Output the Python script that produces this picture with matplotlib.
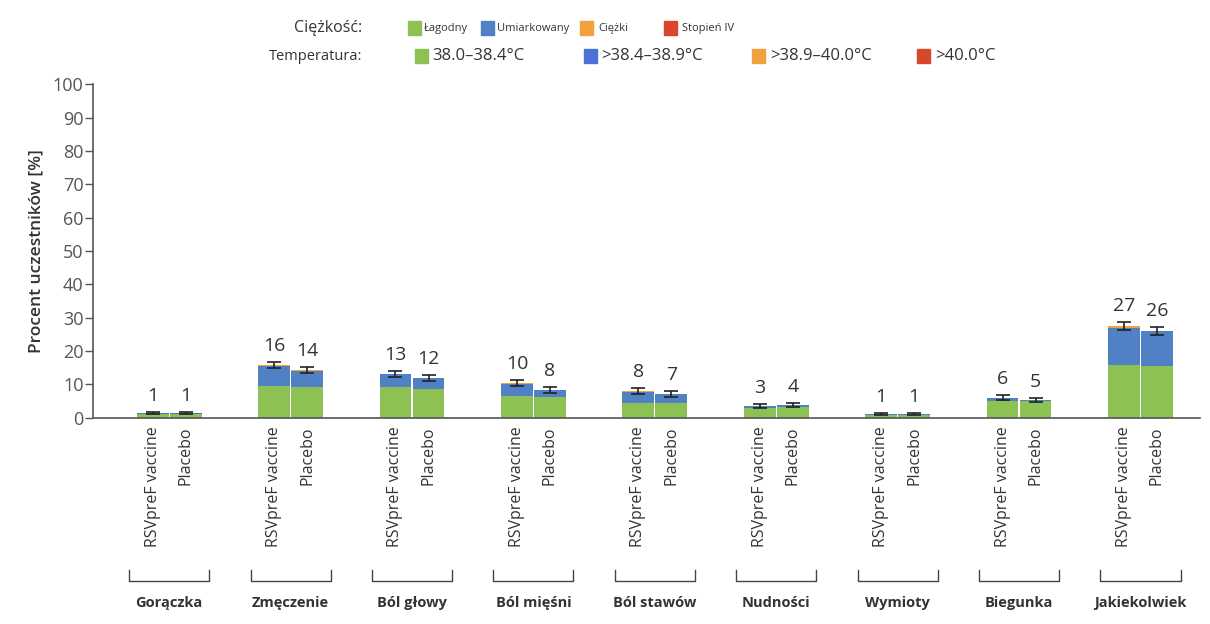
import numpy as np
import matplotlib.pyplot as plt
from matplotlib.patches import Rectangle
from matplotlib.transforms import blended_transform_factory

plt.rcParams['font.family'] = ['Open Sans', 'DejaVu Sans']

# Local reactions by severity, % of participants
categories = ['Gorączka', 'Zmęczenie', 'Ból głowy', 'Ból mięśni', 'Ból stawów',
              'Nudności', 'Wymioty', 'Biegunka', 'Jakiekolwiek']
groups = ['RSVpreF vaccine', 'Placebo']

vaccine_mild     = [1.0, 9.4, 9.2, 6.4, 4.5, 3.0, 0.8, 4.9, 15.9]
vaccine_moderate = [0.4, 6.1, 3.8, 3.8, 3.3, 0.4, 0.2, 1.0, 10.9]
vaccine_severe   = [0.0, 0.3, 0.1, 0.1, 0.1, 0.0, 0.0, 0.1, 0.6]
vaccine_grade4   = [0.0, 0.0, 0.0, 0.0, 0.0, 0.0, 0.0, 0.0, 0.0]
vaccine_err      = [0.4, 1.0, 1.0, 0.9, 0.9, 0.6, 0.3, 0.7, 1.2]

placebo_mild     = [1.1, 9.1, 8.7, 6.3, 4.4, 3.3, 0.8, 5.0, 15.6]
placebo_moderate = [0.3, 5.0, 3.1, 1.9, 2.6, 0.6, 0.2, 0.4, 10.3]
placebo_severe   = [0.0, 0.2, 0.1, 0.0, 0.0, 0.0, 0.0, 0.0, 0.1]
placebo_grade4   = [0.0, 0.0, 0.0, 0.0, 0.0, 0.0, 0.0, 0.0, 0.0]
placebo_err      = [0.4, 1.0, 1.0, 0.9, 0.9, 0.6, 0.3, 0.6, 1.3]

severity_labels = ['Łagodny', 'Umiarkowany', 'Ciężki', 'Stopień IV']
temperature_labels = ['38.0–38.4°C', '>38.4–38.9°C', '>38.9–40.0°C', '>40.0°C']
severity_colors = ['#8dc153', '#4f81c4', '#f2a23c', '#d9472b']
temperature_colors = ['#8dc153', '#4a72d4', '#f2a23c', '#d9472b']

TEXT = '#333333'

fig = plt.figure(figsize=(12.1, 6.24), dpi=100)
ax = fig.add_axes([0.0771, 0.3306, 0.9146, 0.5343])

x = np.arange(len(categories))
bar_w = 0.262
offset = 0.136

series = [
    (x - offset, [vaccine_mild, vaccine_moderate, vaccine_severe, vaccine_grade4], vaccine_err),
    (x + offset, [placebo_mild, placebo_moderate, placebo_severe, placebo_grade4], placebo_err),
]

for pos, stacks, err in series:
    bottom = np.zeros(len(categories))
    for i, vals in enumerate(stacks):
        vals = np.array(vals)
        # fever row uses the temperature palette
        colors = [temperature_colors[i] if c == 0 else severity_colors[i]
                  for c in range(len(categories))]
        ax.bar(pos, vals, bar_w, bottom=bottom, color=colors, linewidth=0)
        bottom += vals
    ax.errorbar(pos, bottom, yerr=err, fmt='none', ecolor='#222222',
                elinewidth=1.2, capsize=5, capthick=1.2)
    for xi, tot, e in zip(pos, bottom, err):
        ax.annotate(f'{tot:.0f}', (xi, tot + e), xytext=(0, 5),
                    textcoords='offset points', ha='center', va='bottom',
                    fontsize=14, color=TEXT)

ax.set_xlim(-0.625, 8.49)
ax.set_ylim(0, 100)
ax.set_yticks(np.arange(0, 101, 10))
ax.tick_params(axis='y', length=6, width=1, colors='#555555', labelsize=13,
               labelcolor='#555555', pad=1)

ticks = np.concatenate([x - offset, x + offset])
ax.set_xticks(ticks)
ax.set_xticklabels([groups[0]] * len(x) + [groups[1]] * len(x),
                   rotation=90, fontsize=11.5, color=TEXT)
ax.tick_params(axis='x', length=0, pad=6)

for side in ['top', 'right']:
    ax.spines[side].set_visible(False)
for side in ['left', 'bottom']:
    ax.spines[side].set_color('#555555')
    ax.spines[side].set_linewidth(1.2)

ax.set_ylabel('Procent uczestników [%]', fontsize=12.5, fontweight='semibold',
              color=TEXT, labelpad=6)

# brackets and category names under the tick labels
trans = blended_transform_factory(ax.transData, ax.transAxes)
half = 0.33
for xi, name in zip(x, categories):
    ax.plot([xi - half, xi - half, xi + half, xi + half],
            [-0.456, -0.49, -0.49, -0.456], color='#444444', lw=1,
            transform=trans, clip_on=False)
    ax.text(xi, -0.555, name, transform=trans, ha='center', va='center',
            fontsize=10.5, fontweight='bold', color=TEXT)

# two-row legend above the plot
W, H = 1210, 624


def legend_row(y_px, title, labels, colors, swatch_px, text_px, size, title_size):
    fig.text(362 / W, 1 - y_px / H, title, ha='right', va='center',
             fontsize=title_size, color=TEXT)
    for lbl, col, sx, tx in zip(labels, colors, swatch_px, text_px):
        fig.patches.append(Rectangle((sx / W, 1 - (y_px + 6.5) / H), 13 / W, 13 / H,
                                     transform=fig.transFigure, color=col,
                                     figure=fig))
        fig.text(tx / W, 1 - y_px / H, lbl, ha='left', va='center',
                 fontsize=size, color=TEXT)


legend_row(28, 'Ciężkość:', severity_labels, severity_colors,
           [408, 481, 580, 664], [424, 497, 598, 682], 8, 11.5)
legend_row(56, 'Temperatura:', temperature_labels, temperature_colors,
           [415, 584, 752, 917], [432, 601, 770, 935], 12, 10.5)

fig.savefig('out.png', dpi=100, facecolor='white')
